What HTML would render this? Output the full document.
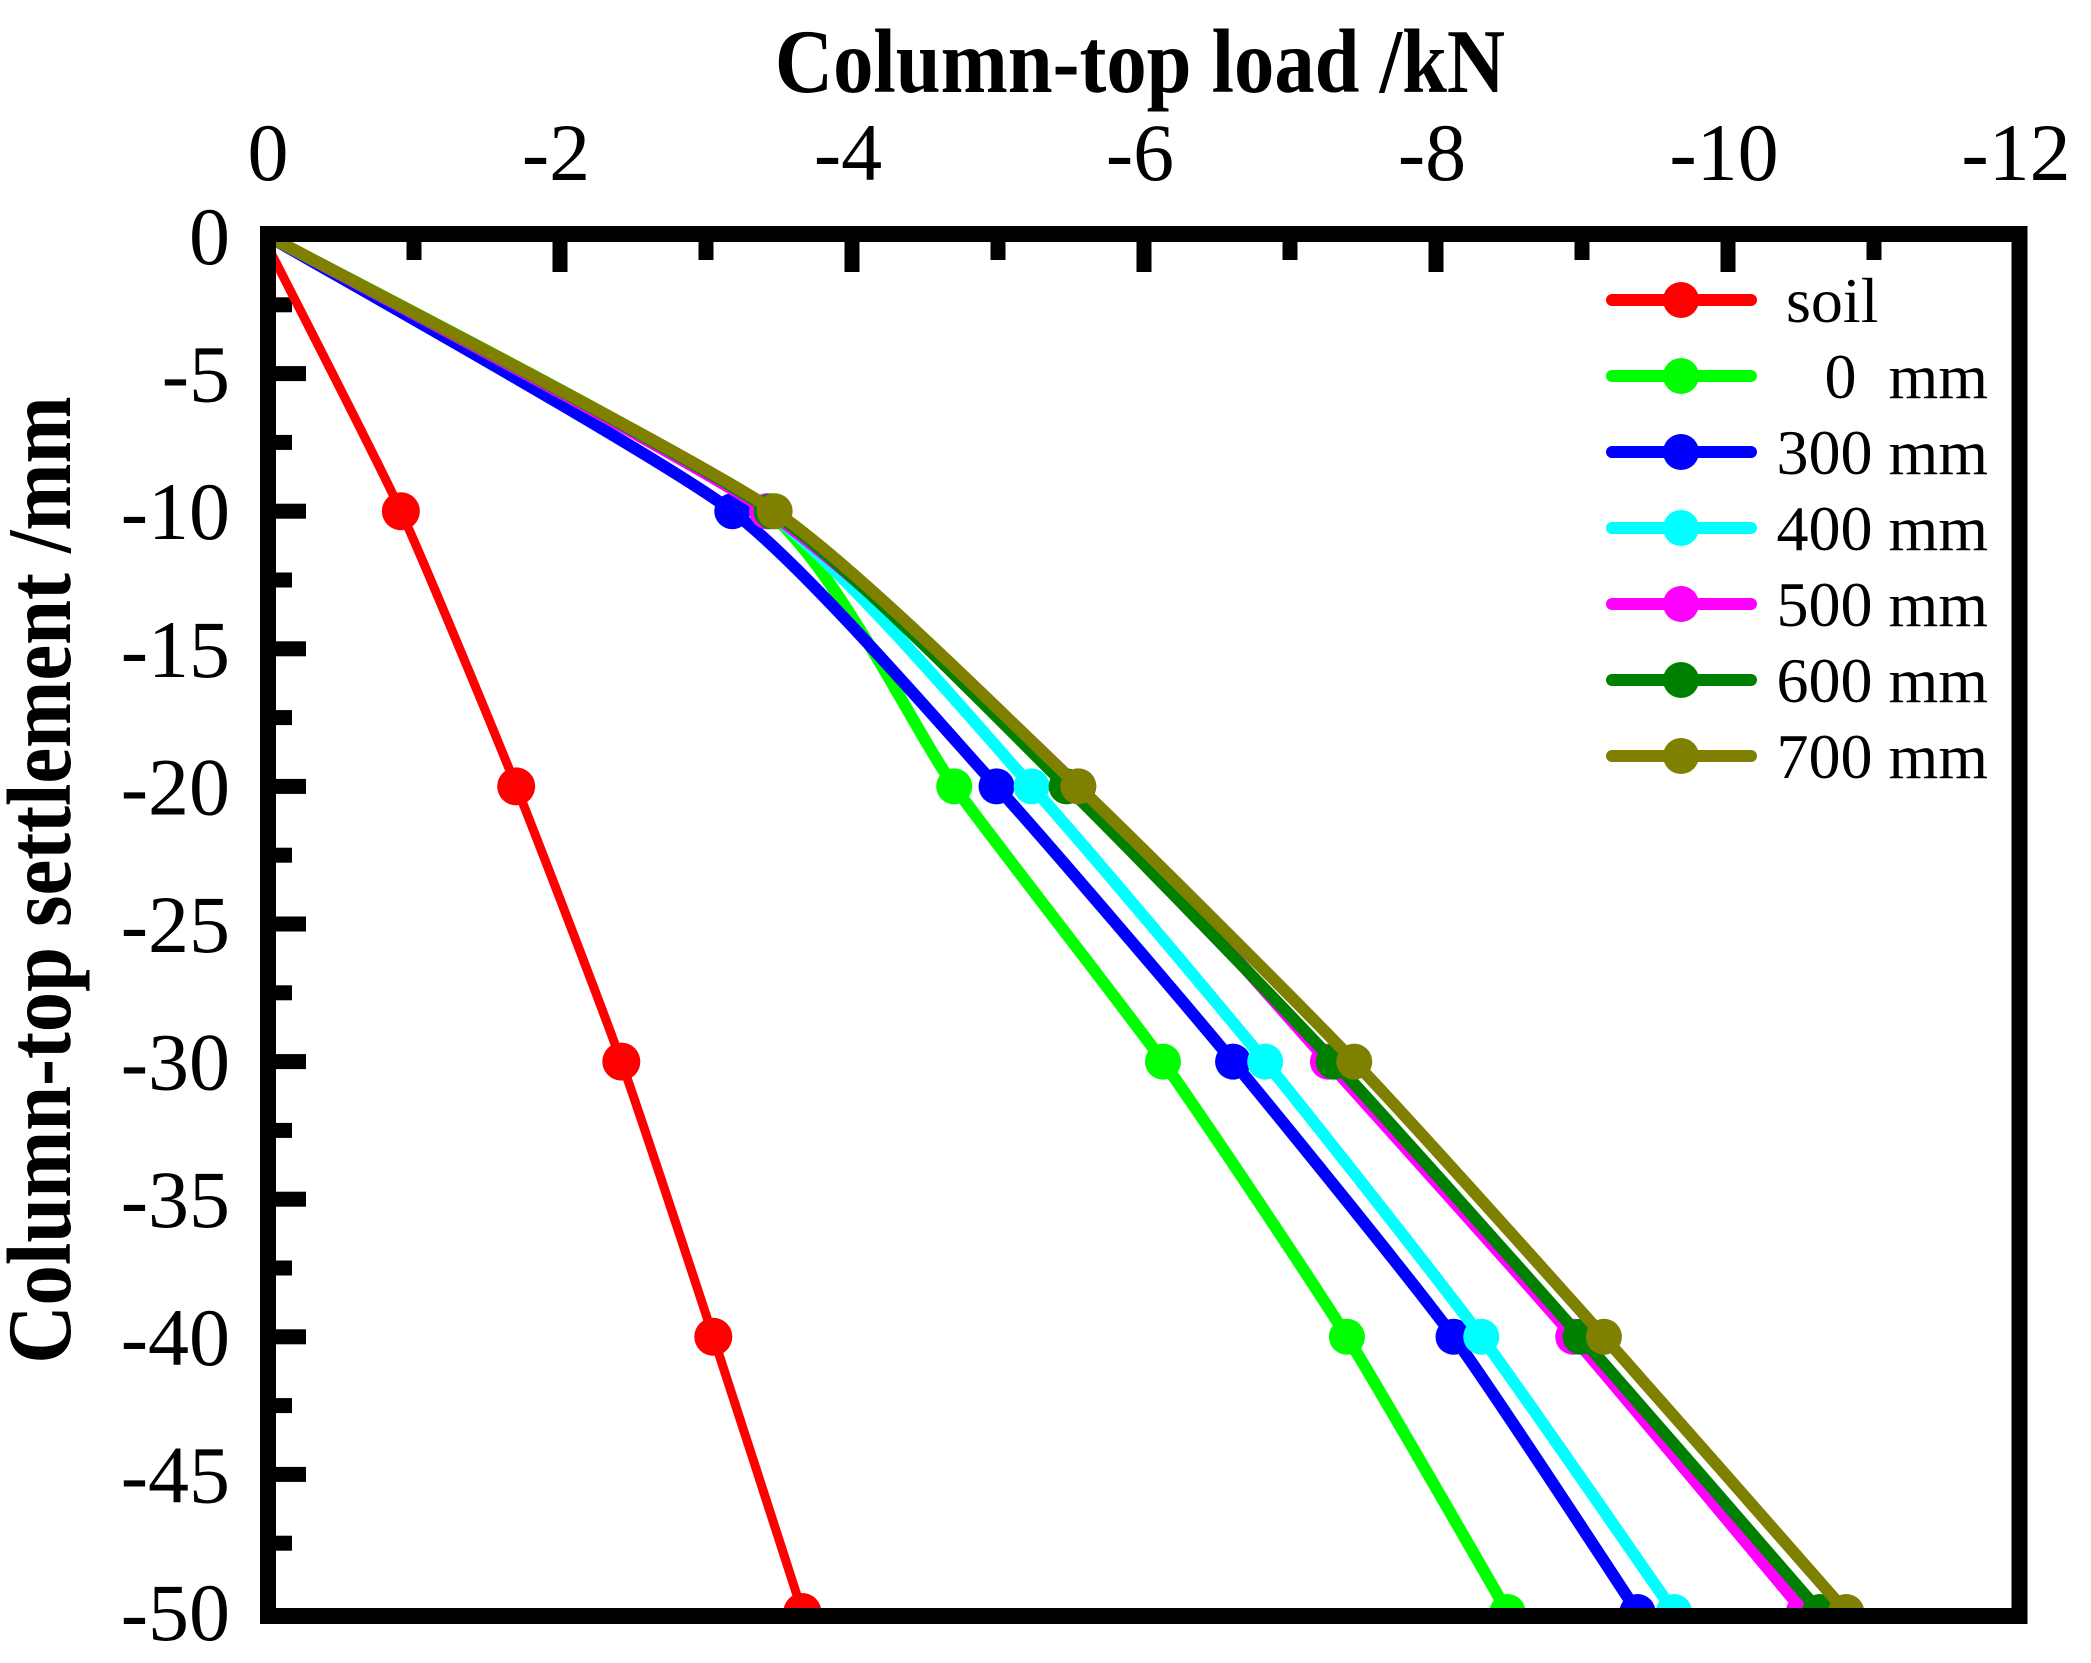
<!DOCTYPE html>
<html><head><meta charset="utf-8"><style>
html,body{margin:0;padding:0;background:#fff;}
svg{display:block;}
text{font-family:"Liberation Serif",serif;fill:#000;}
</style></head><body>
<svg id="chart" width="2091" height="1663" viewBox="0 0 2091 1663" xmlns="http://www.w3.org/2000/svg">
<defs><clipPath id="plotclip"><rect x="276" y="242" width="1736" height="1366"/></clipPath></defs>
<g id="ticks"></g>
<g id="series" clip-path="url(#plotclip)"></g>
<rect x="268" y="234" width="1751.5" height="1382" fill="none" stroke="#000" stroke-width="16"/>
<g id="labels"></g>
<text x="1140" y="85" font-size="84" font-weight="bold" text-anchor="middle" transform="translate(1140,0) scale(0.96,1.08) translate(-1140,0)">Column-top load /kN</text>
<text transform="translate(70,880) rotate(-90) scale(0.96,1.08)" font-size="84" font-weight="bold" text-anchor="middle">Column-top settlement /mm</text>
<g id="legend"></g>
</svg>
<script>
const seriesNames = ["soil","0  mm","300 mm","400 mm","500 mm","600 mm","700 mm"];
const seriesColors = ["#ff0000","#00ff00","#0000ff","#00ffff","#ff00ff","#008000","#808000"];
const settlements = [0,-10,-20,-30,-40,-50];
const loadSoil = [-0.02,-0.91,-1.70,-2.42,-3.05,-3.66];
const load0 = [0,-3.42,-4.70,-6.13,-7.39,-8.49];
const load300 = [0,-3.18,-4.99,-6.61,-8.12,-9.38];
const load400 = [0,-3.42,-5.23,-6.83,-8.31,-9.63];
const load500 = [0,-3.42,-5.55,-7.26,-8.94,-10.52];
const load600 = [0,-3.45,-5.47,-7.30,-8.99,-10.63];
const load700 = [0,-3.47,-5.55,-7.44,-9.15,-10.81];
const xTickLabels = ["0","-2","-4","-6","-8","-10","-12"];
const yTickLabels = ["0","-5","-10","-15","-20","-25","-30","-35","-40","-45","-50"];

const NS="http://www.w3.org/2000/svg";
function X(v){return 268 + (-v)*146;}
function Y(v){return 236 + (-v)*27.52;}
const allLoads=[loadSoil,load0,load300,load400,load500,load600,load700];
const startY=[-0.6,0,0,0,0,0,0];

function smoothPath(pts){
  let d="M"+pts[0][0]+","+pts[0][1];
  for(let i=0;i<pts.length-1;i++){
    const p0=pts[Math.max(0,i-1)],p1=pts[i],p2=pts[i+1],p3=pts[Math.min(pts.length-1,i+2)];
    const t=0.3/3;
    const c1=[p1[0]+(p2[0]-p0[0])*t,p1[1]+(p2[1]-p0[1])*t];
    const c2=[p2[0]-(p3[0]-p1[0])*t,p2[1]-(p3[1]-p1[1])*t];
    d+=" C"+c1[0]+","+c1[1]+" "+c2[0]+","+c2[1]+" "+p2[0]+","+p2[1];
  }
  return d;
}

const sg=document.getElementById("series");
allLoads.forEach((arr,si)=>{
  const g=document.createElementNS(NS,"g");
  
  
  const pts=arr.map((v,i)=>[X(v),Y(i===0?startY[si]:settlements[i])]);
  const p=document.createElementNS(NS,"path");
  
  
  p.setAttribute("d",smoothPath(pts));
  p.setAttribute("fill","none");
  p.setAttribute("stroke",seriesColors[si]);
  p.setAttribute("stroke-width",si===0?9:12);
  p.setAttribute("stroke-linejoin","round");
  g.appendChild(p);
  pts.forEach((pt,i)=>{
    if(i===0) return;
    const c=document.createElementNS(NS,"circle");
    
    
    c.setAttribute("cx",pt[0]);c.setAttribute("cy",pt[1]);c.setAttribute("r",si===0?19:18);
    c.setAttribute("fill",seriesColors[si]);
    g.appendChild(c);
  });
  sg.appendChild(g);
});

const tg=document.getElementById("ticks");
for(let k=1;k<12;k++){
  const r=document.createElementNS(NS,"rect");
  
  
  const len=(k%2===0)?30:18;
  r.setAttribute("x",X(-k)-7.5);r.setAttribute("y",240);r.setAttribute("width",15);r.setAttribute("height",len+2);
  tg.appendChild(r);
}
for(let k=1;k<20;k++){
  const r=document.createElementNS(NS,"rect");
  
  
  const len=(k%2===0)?30:16;
  r.setAttribute("x",274);r.setAttribute("y",Y(-k*2.5)-7.5);r.setAttribute("width",len+2);r.setAttribute("height",15);
  tg.appendChild(r);
}
const lg=document.getElementById("labels");
xTickLabels.forEach((t,i)=>{
  const e=document.createElementNS(NS,"text");
  
  
  e.setAttribute("x",X(-2*i)+(i===0?0:-4));e.setAttribute("y",180);e.setAttribute("font-size","82");e.setAttribute("text-anchor","middle");
  e.textContent=t;lg.appendChild(e);
});
yTickLabels.forEach((t,i)=>{
  const e=document.createElementNS(NS,"text");
  
  
  e.setAttribute("x",230);e.setAttribute("y",Y(-5*i)+28);e.setAttribute("font-size","82");e.setAttribute("text-anchor","end");
  e.textContent=t;lg.appendChild(e);
});
const leg=document.getElementById("legend");
seriesNames.forEach((n,i)=>{
  const y=300+i*76;
  const g=document.createElementNS(NS,"g");
  
  
  const l=document.createElementNS(NS,"line");
  
  
  l.setAttribute("x1",1612);l.setAttribute("x2",1751);l.setAttribute("y1",y);l.setAttribute("y2",y);
  l.setAttribute("stroke",seriesColors[i]);l.setAttribute("stroke-width",12);l.setAttribute("stroke-linecap","round");
  g.appendChild(l);
  const c=document.createElementNS(NS,"circle");
  
  
  c.setAttribute("cx",1681);c.setAttribute("cy",y);c.setAttribute("r",18);c.setAttribute("fill",seriesColors[i]);
  g.appendChild(c);
  const t=document.createElementNS(NS,"text");
  
  
  if(i===0){t.setAttribute("x",1786);t.setAttribute("text-anchor","start");}
  else{t.setAttribute("x",1988);t.setAttribute("text-anchor","end");}
  t.setAttribute("y",y+22);t.setAttribute("font-size","64");
  t.setAttribute("xml:space","preserve");t.style.whiteSpace="pre";
  t.textContent=n;
  g.appendChild(t);
  leg.appendChild(g);
});
</script>
</body></html>
